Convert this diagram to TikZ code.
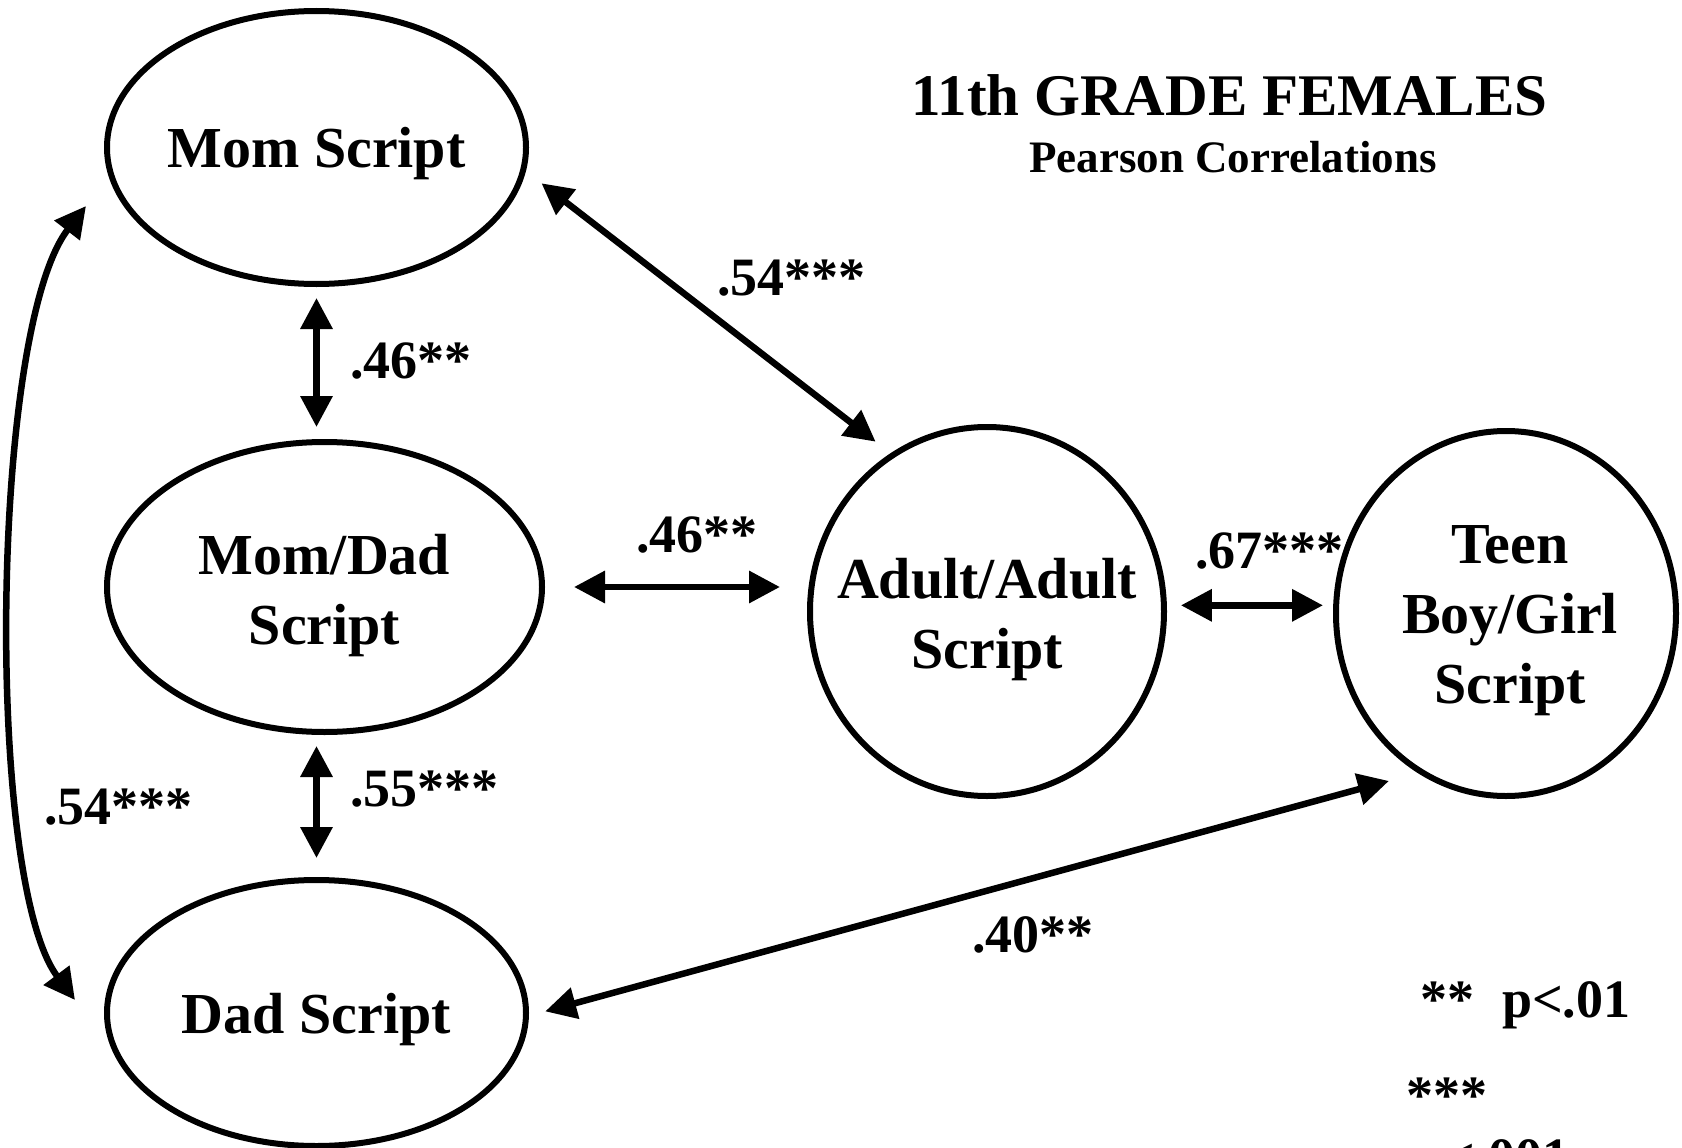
\documentclass[tikz,border=0pt]{standalone}
\usepackage{fontspec}
\setmainfont{Liberation Serif}
\usetikzlibrary{arrows.meta,shapes.geometric,calc}

\begin{document}
\begin{tikzpicture}[x=1pt,y=-1pt,
  ell/.style={draw, ellipse, line width=6pt, inner sep=0pt, outer sep=0pt},
  nodetxt/.style={font=\fontsize{58}{70}\selectfont\bfseries, align=center, inner sep=0pt, anchor=base},
  coef/.style={font=\fontsize{54}{60}\selectfont\bfseries, inner sep=0pt, anchor=base west},
  dbl/.style={{Triangle[length=31pt,width=31pt]}-{Triangle[length=31pt,width=31pt]}, line width=6.5pt},
]
\useasboundingbox (0,0) rectangle (1682,1148);
\clip (0,0) rectangle (1682,1148);

% latent script constructs
\node[ell, minimum width=419pt, minimum height=273pt] (mom)    at (316.5,147.5) {};
\node[ell, minimum width=435pt, minimum height=290pt] (momdad) at (324.5,587) {};
\node[ell, minimum width=419pt, minimum height=266pt] (dad)    at (316.5,1013) {};
\node[ell, minimum width=354pt, minimum height=369pt] (adult)  at (987,611.5) {};
\node[ell, minimum width=340pt, minimum height=365pt] (teen)   at (1506,613.5) {};

% their names (anchored at the baseline of the last line)
\node[nodetxt] (momT)    at ($(mom)+(0,19.5)$)    {Mom Script};
\node[nodetxt] (momdadT) at ($(momdad)+(0,57)$)   {Mom/Dad\\Script};
\node[nodetxt] (dadT)    at ($(dad)+(0,20)$)      {Dad Script};
\node[nodetxt] (adultT)  at ($(adult)+(0,56.5)$)  {Adult/Adult\\Script};
\node[nodetxt] (teenT)   at ($(teen)+(4,89.5)$)   {Teen\\Boy/Girl\\Script};

% heading
\node[font=\fontsize{59}{64}\selectfont\bfseries, anchor=base, inner sep=0pt] (title) at (1229.5,115) {11th GRADE FEMALES};
\node[font=\fontsize{45}{50}\selectfont\bfseries, anchor=base, inner sep=0pt] (subtitle) at (1233,172) {Pearson Correlations};

% correlations
\draw[dbl, shorten <=14pt, shorten >=15pt] (mom.south) -- (mom.south |- momdad.north);
\draw[dbl, shorten <=14pt, shorten >=22pt] (dad.north |- momdad.south) -- (dad.north);
\draw[dbl, shorten <=32pt, shorten >=30pt] (momdad.east) -- (momdad.east -| adult.west);
\draw[dbl, shorten <=17pt, shorten >=13pt] (adult.2.5) -- (adult.2.5 -| teen.west);
\draw[dbl, shorten <=23pt, shorten >=22pt] (mom.-6.9) -- (adult.121.2);
\draw[dbl, shorten <=20pt, shorten >=34pt] (dad.-1.75) -- (teen.-118.7);
\draw[dbl] ($(mom.center)+(-230.5,58.5)$) .. controls +(-96,124) and +(-90,-120) .. ($(dad.center)+(-241.5,-13)$);

% coefficients
\node[coef] (c1) at (717,295)   {.54***};
\node[coef] (c2) at (350,378)   {.46**};
\node[coef] (c3) at (636,552)   {.46**};
\node[coef] (c4) at (1195,568.5){.67***};
\node[coef] (c5) at (350,806.5) {.55***};
\node[coef] (c6) at (44,824)    {.54***};
\node[coef] (c7) at (972,952.5) {.40**};

% significance key
\node[coef] (k1) at (1420,1017) {**\hspace{28pt}p<.01};
\node[coef] (k2) at (1406,1113) {***};
\node[coef] (k3) at (1414,1175) {p<.001};
\end{tikzpicture}
\end{document}
